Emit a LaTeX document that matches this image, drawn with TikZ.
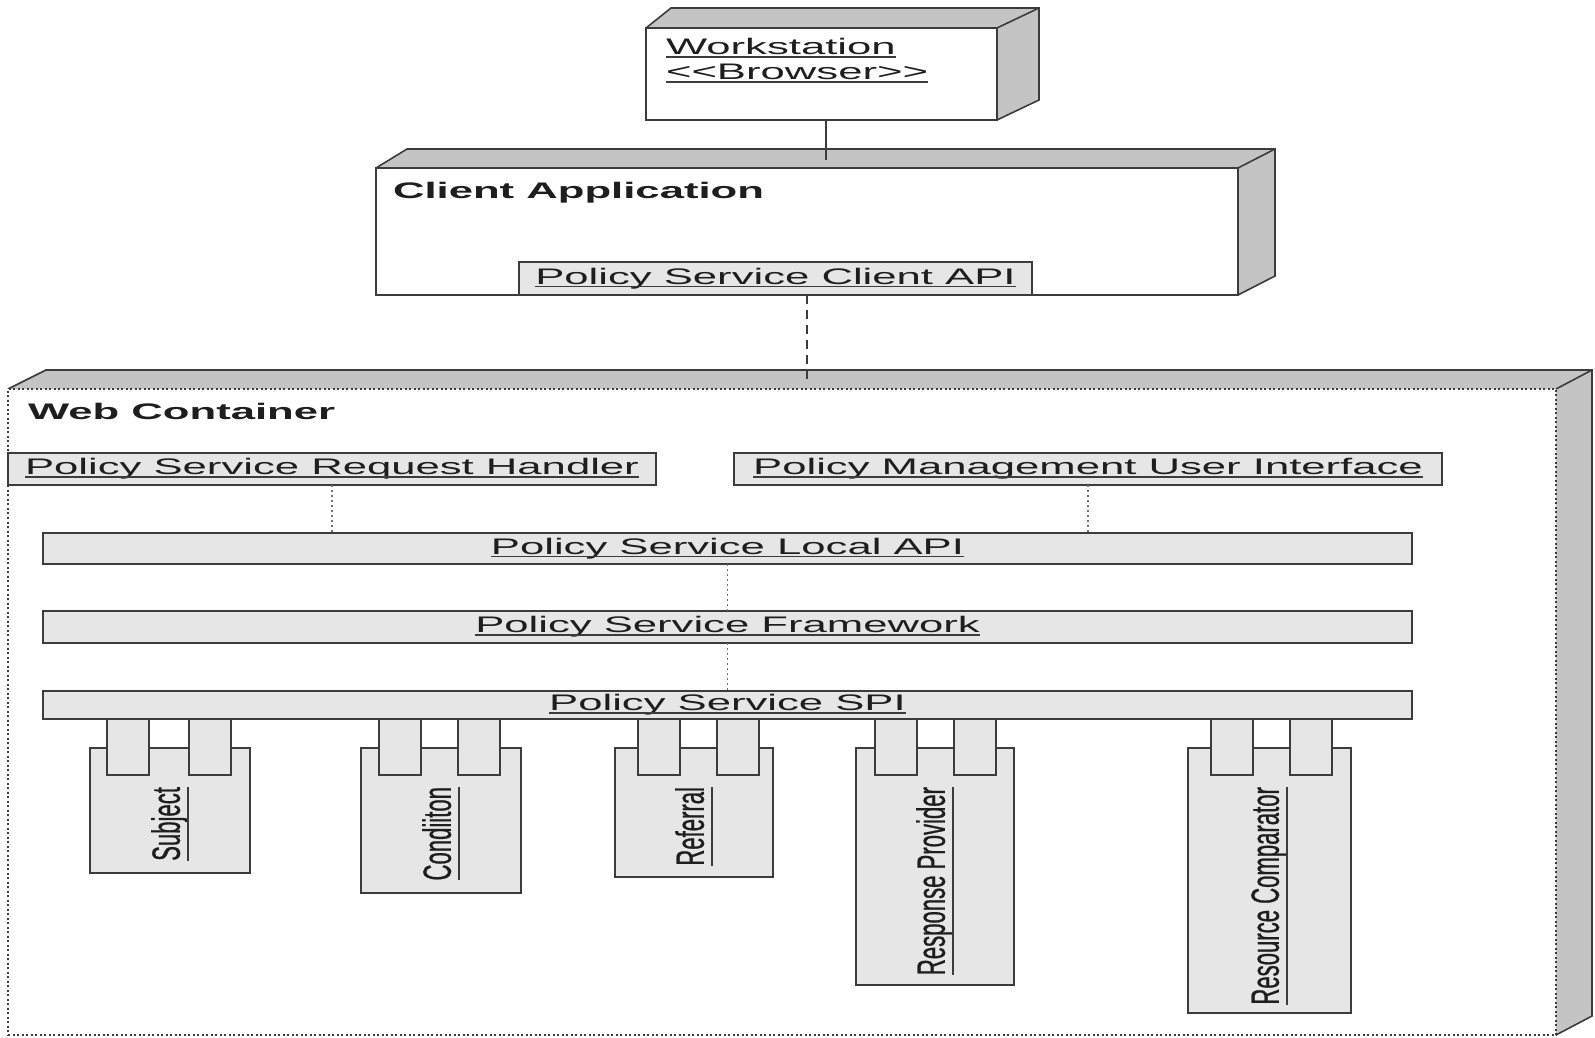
\documentclass[tikz,border=0pt]{standalone}
\usepackage{fontspec}
\setmainfont{Liberation Sans}
% wide face for horizontal labels, narrow face for the rotated component names
\newfontfamily\hfont[FakeStretch=1.94]{Liberation Sans}
\newfontfamily\vfont[FakeStretch=0.56,FakeBold=0.6]{Liberation Sans}
\usetikzlibrary{calc,backgrounds}

\definecolor{ink}{HTML}{1E1E1E}
\definecolor{edge}{HTML}{3C3C3C}
\definecolor{face}{HTML}{C4C4C4}
\definecolor{bar}{HTML}{E6E6E6}
\definecolor{dots}{HTML}{707070}

% underlined text, optional distance of the rule below the baseline
\newcommand\ulx[2][3pt]{\setbox0=\hbox{#2}\rlap{\copy0}{\color{edge}\rule[-#1]{\wd0}{1.5pt}}}

% top and side faces of a 3D node: node, left slant, right slant, rise
\newcommand\slab[4]{%
  \begin{scope}[on background layer]
    \fill[face] (#1.north west) -- ++(#2,-#4) -- ($(#1.north east)+(#3,-#4)$)
      -- ($(#1.south east)+(#3,-#4)$) -- (#1.south east) -- (#1.north east) -- cycle;
    \draw[outline] (#1.north west) -- ++(#2,-#4) -- ($(#1.north east)+(#3,-#4)$)
      -- ($(#1.south east)+(#3,-#4)$) -- (#1.south east);
    \draw[outline] (#1.north east) -- ++(#3,-#4);
  \end{scope}}

% SPI plug-in: name, x, width, height, first port x, second port x, label
\newcommand\spicomp[7]{%
  \node[bodybox, minimum width=#3pt, minimum height=#4pt] (#1) at (#2,748) {};
  \node[portbox] (#1-a) at (#5,719) {};
  \node[portbox] (#1-b) at (#6,719) {};
  \node[vlabel] (#1-t) at ($(#1.north)+(0,39)$) {\ulx[9pt]{#7}};}

\begin{document}
\begin{tikzpicture}[x=1pt,y=-1pt,
  every node/.style={inner sep=0pt, outer sep=0pt},
  outline/.style={draw=edge, line width=1.6pt, line join=miter},
  frontface/.style={rectangle, draw=edge, line width=1.6pt, fill=white, anchor=north west},
  containerface/.style={rectangle, draw=edge, line width=1.4pt, dash pattern=on 2pt off 2.5pt, fill=white, anchor=north west},
  barbox/.style={rectangle, draw=edge, line width=1.6pt, fill=bar, anchor=north west,
    text=ink, font=\hfont\fontsize{22.5}{27}\selectfont},
  bodybox/.style={rectangle, draw=edge, line width=1.6pt, fill=bar, anchor=north west},
  portbox/.style={rectangle, draw=edge, line width=1.6pt, fill=bar, anchor=north west,
    minimum width=42pt, minimum height=56pt},
  title/.style={anchor=base west, text=ink, font=\hfont\fontsize{22.5}{27}\selectfont},
  boldtitle/.style={anchor=base west, text=ink, font=\hfont\bfseries\fontsize{22.5}{27}\selectfont},
  vlabel/.style={rotate=90, anchor=east, text=ink, font=\vfont\fontsize{39.5}{42}\selectfont},
  solidlink/.style={draw=edge, line width=2pt},
  dashlink/.style={draw=edge, line width=2pt, dash pattern=on 9pt off 6pt},
  dotlink/.style={draw=dots, line width=1.6pt, dash pattern=on 2pt off 3pt}]

\useasboundingbox (0,0) rectangle (1595,1038);
\begin{scope}[on background layer]
  \fill[white] (0,0) rectangle (1595,1038);
\end{scope}

% workstation node
\node[frontface, minimum width=351pt, minimum height=92pt] (ws) at (646,28) {};
\slab{ws}{25}{42}{20}
\node[title] (wsname) at (666,55) {\ulx{Workstation}};
\node[title] (wsstereo) at (666,80) {\ulx{<<Browser>>}};

% client application node
\node[frontface, minimum width=862pt, minimum height=127pt] (ca) at (376,168) {};
\slab{ca}{31}{37}{19}
\node[boldtitle] (caname) at (393,198) {Client Application};
\node[barbox, minimum width=513pt, minimum height=33pt] (api) at (519,262) {\ulx{Policy Service Client API}};

% web container node
\node[containerface, minimum width=1548pt, minimum height=646pt] (wc) at (8,389) {};
\slab{wc}{38}{36}{19}
\node[boldtitle] (wcname) at (28,419) {Web Container};

\node[barbox, minimum width=648pt, minimum height=32pt] (rh) at (8,453) {\ulx{Policy Service Request Handler}};
\node[barbox, minimum width=708pt, minimum height=32pt] (ui) at (734,453) {\ulx{Policy Management User Interface}};
\node[barbox, minimum width=1369pt, minimum height=31pt] (lapi) at (43,533) {\ulx{Policy Service Local API}};
\node[barbox, minimum width=1369pt, minimum height=32pt] (fw) at (43,611) {\ulx{Policy Service Framework}};
\node[barbox, minimum width=1369pt, minimum height=28pt] (spi) at (43,691) {\ulx{Policy Service SPI}};

% plug-ins hanging off the SPI
\spicomp{subj}{90}{160}{125}{107}{189}{Subject}
\spicomp{cond}{361}{160}{145}{379}{458}{Condiiton}
\spicomp{refl}{615}{158}{129}{638}{717}{Referral}
\spicomp{resp}{856}{158}{237}{875}{954}{Response Provider}
\spicomp{rcmp}{1188}{163}{265}{1211}{1290}{Resource Comparator}

% connectors
\coordinate (wsin) at (826,160);
\coordinate (wcin) at (807,380);
\draw[solidlink] (wsin |- ws.south) -- (wsin);
\draw[dashlink] (wcin |- api.south) -- (wcin);
\draw[dotlink] (rh.south) -- (rh.south |- lapi.north);
\draw[dotlink] (ui.south) -- (ui.south |- lapi.north);
\draw[dotlink] (lapi.south) -- (fw.north);
\draw[dotlink] (fw.south) -- (spi.north);
\end{tikzpicture}
\end{document}
